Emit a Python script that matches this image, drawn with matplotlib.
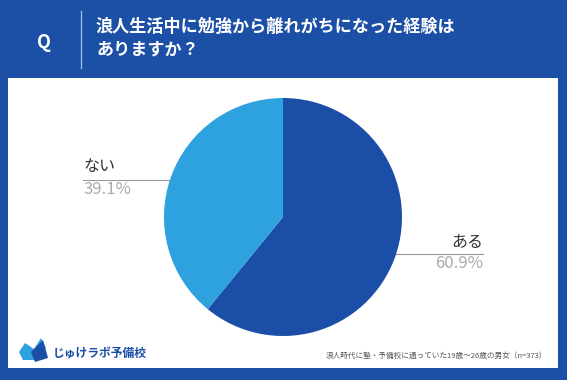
import matplotlib
matplotlib.use("Agg")
import matplotlib.pyplot as plt
from matplotlib.patches import Rectangle, Polygon

plt.rcParams['font.family'] = ['Noto Sans CJK JP', 'DejaVu Sans']

labels = ['ある', 'ない']
values = [60.9, 39.1]
colors = ['#1b4ea6', '#2da2df']
title_lines = ['浪人生活中に勉強から離れがちになった経験は', 'ありますか？']
note = '浪人時代に塾・予備校に通っていた19歳～26歳の男女（n=373）'
brand = 'じゅけラボ予備校'

W, H = 567, 380
fig = plt.figure(figsize=(W / 100, H / 100), dpi=100)
fig.patch.set_facecolor('#1c4fa6')

# full-figure axes in pixel coords (y down)
bg = fig.add_axes([0, 0, 1, 1])
bg.set_xlim(0, W)
bg.set_ylim(H, 0)
bg.axis('off')
bg.add_patch(Rectangle((8, 78), 550, 290, facecolor='white', edgecolor='none'))
bg.plot([81, 81], [11, 68], color='#9fc0ea', lw=0.9)
bg.text(44, 42, 'Q', color='white', fontsize=13, fontweight='bold', ha='center', va='center')
bg.text(96, 27, title_lines[0], color='white', fontsize=12.3, fontweight='bold', va='center')
bg.text(96, 49, title_lines[1], color='white', fontsize=12.3, fontweight='bold', va='center')

# logo
bg.add_patch(Polygon([(19, 352), (25, 343), (34, 349), (41, 338), (46, 348), (37, 360), (23, 360)],
                     closed=True, facecolor='#2da2df', edgecolor='none'))
bg.add_patch(Polygon([(31, 352), (43, 340), (48, 358), (35, 362)], closed=True,
                     facecolor='#1b4ea6', edgecolor='none'))
bg.text(53, 353, brand, color='#1b4ea6', fontsize=8.5, fontweight='bold', va='center')
bg.text(547, 356, note, color='#555555', fontsize=5.5, ha='right', va='center')

# pie
r = 119
cx, cy = 283, 217
ax = fig.add_axes([(cx - r) / W, (H - cy - r) / H, 2 * r / W, 2 * r / H])
ax.pie(values, colors=colors, startangle=90, counterclock=False, radius=1,
       wedgeprops=dict(linewidth=0))
ax.set_xlim(-1, 1)
ax.set_ylim(-1, 1)
ax.axis('off')

# labels with leader lines
bg.plot([83, 177], [180, 180], color='#999999', lw=0.8)
bg.plot([177], [180], 'o', color='#aaaaaa', ms=1.5)
bg.text(83, 167, labels[1], color='#333333', fontsize=11.5, va='center')
bg.text(83, 190, f'{values[1]}%', color='#aaaaaa', fontsize=12, va='center')

bg.plot([390, 483], [254, 254], color='#999999', lw=0.8)
bg.plot([390], [254], 'o', color='#aaaaaa', ms=1.5)
bg.text(483, 243, labels[0], color='#333333', fontsize=11.5, ha='right', va='center')
bg.text(483, 264, f'{values[0]}%', color='#aaaaaa', fontsize=12, ha='right', va='center')

fig.savefig('out.png', dpi=100, facecolor=fig.get_facecolor())
